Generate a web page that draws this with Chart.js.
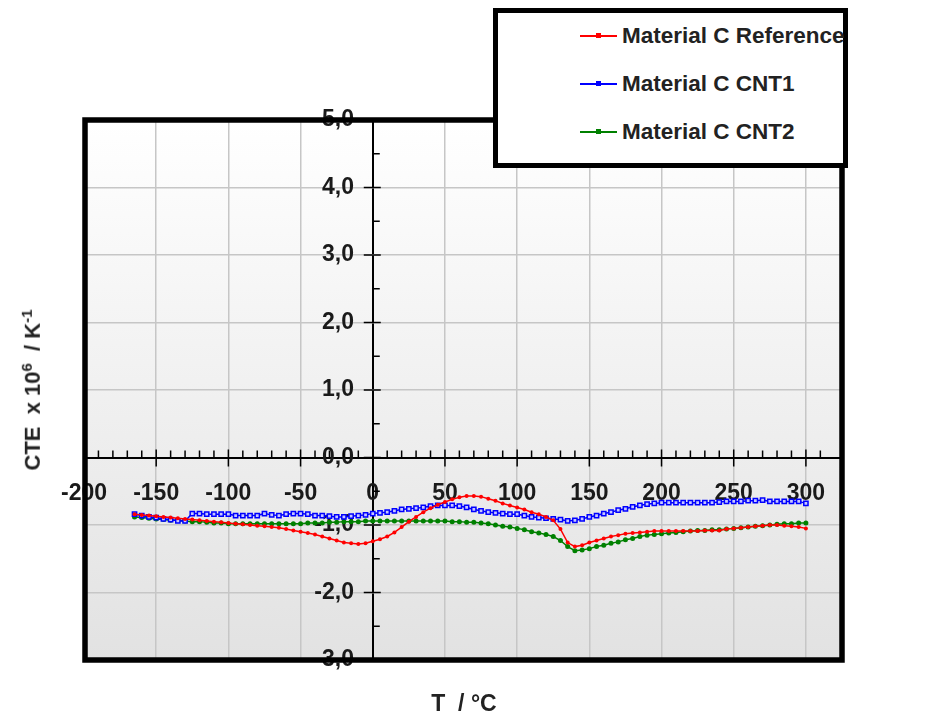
<!DOCTYPE html>
<html>
<head>
<meta charset="utf-8">
<script src="https://cdn.jsdelivr.net/npm/chart.js@4/dist/chart.umd.min.js"></script>
<style>
  body { margin: 0; background: #fff; font-family: "Liberation Sans", Arial, sans-serif; }
  #wrap { position: relative; width: 932px; height: 713px; }
  #legend { position: absolute; left: 493px; top: 8px; width: 345px; height: 150px; border: 5px solid #000; background: #fff; }
  .item { position: absolute; left: 82px; height: 24px; font-weight: bold; font-size: 22.5px; color: #222; line-height: 24px; white-space: nowrap; }
  .item .ln { position: absolute; left: 0; top: 11px; width: 37px; height: 2px; }
  .item .mk { position: absolute; left: 16px; top: 9px; width: 5px; height: 5px; }
  .item span.t { position: absolute; left: 42px; top: 0; }
  #ytitle { position: absolute; left: 32px; top: 390px; transform: translate(-50%, -50%) rotate(-90deg); font-weight: bold; font-size: 22px; color: #222; white-space: nowrap; }
  #ytitle sup { font-size: 15px; }
  #xtitle { position: absolute; left: 464px; top: 703px; transform: translate(-50%, -50%); font-weight: bold; font-size: 23px; color: #222; white-space: nowrap; }
</style>
</head>
<body>
<div id="wrap">
  <canvas id="cteChart" width="932" height="713"></canvas>
  <div id="legend"></div>
  <div id="ytitle">CTE&nbsp;&nbsp;x 10<sup>6</sup>&nbsp; / K<sup>-1</sup></div>
  <div id="xtitle">T &nbsp;/ °C</div>
</div>
<script>
const temps = [-165, -160, -155, -150, -145, -140, -135, -130, -125, -120, -115, -110, -105, -100, -95, -90, -85, -80, -75, -70,
  -65, -60, -55, -50, -45, -40, -35, -30, -25, -20, -15, -10, -5, 0, 5, 10, 15, 20, 25, 30,
  35, 40, 45, 50, 55, 60, 65, 70, 75, 80, 85, 90, 95, 100, 105, 110, 115, 120, 125, 130,
  135, 140, 145, 150, 155, 160, 165, 170, 175, 180, 185, 190, 195, 200, 205, 210, 215, 220, 225, 230,
  235, 240, 245, 250, 255, 260, 265, 270, 275, 280, 285, 290, 295, 300];

const refValues = [-0.84, -0.85, -0.86, -0.87, -0.88, -0.89, -0.90, -0.91, -0.92, -0.93, -0.94, -0.95, -0.96, -0.97, -0.98, -0.99, -1.00, -1.01, -1.02, -1.03,
  -1.04, -1.06, -1.08, -1.10, -1.12, -1.14, -1.17, -1.20, -1.23, -1.26, -1.27, -1.28, -1.27, -1.24, -1.21, -1.17, -1.11, -1.03, -0.95, -0.88,
  -0.81, -0.75, -0.70, -0.66, -0.62, -0.59, -0.57, -0.57, -0.58, -0.61, -0.64, -0.68, -0.71, -0.74, -0.77, -0.81, -0.84, -0.88, -0.93, -1.06,
  -1.26, -1.32, -1.30, -1.26, -1.23, -1.20, -1.17, -1.15, -1.13, -1.12, -1.11, -1.10, -1.09, -1.09, -1.09, -1.09, -1.09, -1.09, -1.09, -1.08,
  -1.08, -1.08, -1.06, -1.05, -1.04, -1.03, -1.02, -1.01, -1.00, -1.00, -1.01, -1.02, -1.03, -1.05];

const cnt1Values = [-0.84, -0.86, -0.88, -0.89, -0.91, -0.92, -0.94, -0.94, -0.83, -0.83, -0.84, -0.84, -0.84, -0.84, -0.86, -0.86, -0.86, -0.86, -0.83, -0.85,
  -0.86, -0.84, -0.83, -0.83, -0.84, -0.86, -0.86, -0.87, -0.88, -0.88, -0.87, -0.86, -0.85, -0.83, -0.82, -0.81, -0.79, -0.77, -0.76, -0.75,
  -0.74, -0.72, -0.71, -0.71, -0.71, -0.72, -0.74, -0.77, -0.79, -0.81, -0.82, -0.83, -0.84, -0.84, -0.86, -0.88, -0.89, -0.90, -0.91, -0.92,
  -0.94, -0.93, -0.91, -0.88, -0.86, -0.83, -0.81, -0.78, -0.76, -0.73, -0.71, -0.69, -0.68, -0.67, -0.67, -0.67, -0.67, -0.67, -0.67, -0.67,
  -0.67, -0.66, -0.65, -0.65, -0.65, -0.64, -0.64, -0.63, -0.65, -0.65, -0.65, -0.65, -0.65, -0.68];

const cnt2Values = [-0.88, -0.89, -0.90, -0.91, -0.92, -0.93, -0.93, -0.94, -0.95, -0.95, -0.96, -0.97, -0.97, -0.98, -0.98, -0.98, -0.98, -0.98, -0.98, -0.98,
  -0.98, -0.98, -0.98, -0.98, -0.97, -0.97, -0.97, -0.96, -0.96, -0.95, -0.95, -0.95, -0.94, -0.94, -0.94, -0.94, -0.94, -0.94, -0.94, -0.94,
  -0.94, -0.94, -0.94, -0.94, -0.95, -0.95, -0.96, -0.96, -0.97, -0.98, -1.00, -1.02, -1.03, -1.05, -1.07, -1.10, -1.12, -1.14, -1.17, -1.23,
  -1.32, -1.38, -1.37, -1.35, -1.32, -1.30, -1.27, -1.25, -1.22, -1.20, -1.17, -1.15, -1.14, -1.13, -1.12, -1.11, -1.10, -1.09, -1.08, -1.08,
  -1.07, -1.07, -1.06, -1.05, -1.04, -1.03, -1.02, -1.01, -1.00, -0.99, -0.98, -0.98, -0.97, -0.97];

const seriesNames = ["Material C Reference", "Material C CNT1", "Material C CNT2"];
const seriesColors = ["#ff0000", "#0000ff", "#008000"];

const xMin = -200, xMax = 325;
const yMin = -3, yMax = 5;

const toPoints = (vals) => vals.map((v, i) => ({ x: temps[i], y: v }));

// legend (html, like the original box)
const legend = document.getElementById("legend");
legend.innerHTML = seriesNames.map((name, i) => `<div class="item" style="top:${11 + i * 48}px">
  <div class="ln" style="background:${seriesColors[i]}"></div>
  <div class="mk" style="background:${seriesColors[i]}"></div>
  <span class="t">${name}</span></div>`).join("");

const plotDecor = {
  id: "plotDecor",
  beforeDraw(chart) {
    const { ctx, chartArea: a } = chart;
    const g = ctx.createLinearGradient(0, a.top, 0, a.bottom);
    g.addColorStop(0, "#ffffff");
    g.addColorStop(1, "#e2e2e2");
    ctx.save();
    ctx.fillStyle = g;
    ctx.fillRect(a.left, a.top, a.right - a.left, a.bottom - a.top);
    ctx.restore();
  },
  beforeDatasetsDraw(chart) {
    const { ctx, scales: { x, y } } = chart;
    const x0 = x.getPixelForValue(0);
    const y0 = y.getPixelForValue(0);
    ctx.save();
    ctx.strokeStyle = "#000";
    ctx.lineWidth = 1.5;
    ctx.beginPath();
    x.ticks.forEach((t) => {
      const px = x.getPixelForValue(t.value);
      if (t.value % 50 === 0) { ctx.moveTo(px, y0 - 8); ctx.lineTo(px, y0 + 9); }
      else { ctx.moveTo(px, y0 - 7); ctx.lineTo(px, y0); }
    });
    y.ticks.forEach((t) => {
      const py = y.getPixelForValue(t.value);
      if (Number.isInteger(t.value)) { ctx.moveTo(x0 - 9, py); ctx.lineTo(x0 + 8, py); }
      else { ctx.moveTo(x0, py); ctx.lineTo(x0 + 7, py); }
    });
    ctx.stroke();
    ctx.restore();
  },
  afterDraw(chart) {
    const { ctx, chartArea: a } = chart;
    ctx.save();
    ctx.strokeStyle = "#000";
    ctx.lineWidth = 5.5;
    ctx.strokeRect(a.left + 1, a.top, a.right - a.left - 1, a.bottom - a.top);
    ctx.restore();
  },
};

const gridColor = (ctx) => (ctx.tick.value === 0 ? "#000" : "#c6c6c6");
const tickFont = { family: "'Liberation Sans', Arial", size: 23, weight: "bold" };

new Chart(document.getElementById("cteChart"), {
  type: "line",
  data: {
    datasets: [
      { label: seriesNames[0], data: toPoints(refValues), borderColor: seriesColors[0], backgroundColor: seriesColors[0],
        borderWidth: 1.5, pointStyle: "circle", pointRadius: 2, pointBorderWidth: 0 },
      { label: seriesNames[1], data: toPoints(cnt1Values), borderColor: seriesColors[1], backgroundColor: "#c8c8ff",
        borderWidth: 1.5, pointStyle: "rect", pointRadius: 3, pointBorderWidth: 1.5 },
      { label: seriesNames[2], data: toPoints(cnt2Values), borderColor: seriesColors[2], backgroundColor: seriesColors[2],
        borderWidth: 1.5, pointStyle: "circle", pointRadius: 2.5, pointBorderWidth: 0 },
    ],
  },
  options: {
    responsive: false,
    animation: false,
    layout: { padding: { left: 84, right: 90, top: 120, bottom: 53 } },
    plugins: { legend: { display: false }, tooltip: { enabled: false } },
    scales: {
      x: {
        type: "linear",
        min: xMin,
        max: xMax,
        position: { y: 0 },
        border: { display: false },
        grid: {
          drawTicks: false,
          color: gridColor,
          lineWidth: (ctx) => (ctx.tick.value === 0 ? 2 : ctx.tick.value % 50 === 0 ? 1.5 : 0),
        },
        ticks: {
          stepSize: 10,
          padding: 22,
          color: "#1a1a1a",
          font: tickFont,
          maxRotation: 0,
          autoSkip: false,
          callback: (v) => (v % 50 === 0 ? String(v) : ""),
        },
      },
      y: {
        type: "linear",
        min: yMin,
        max: yMax,
        position: { x: -13 },
        border: { display: false },
        grid: {
          drawTicks: false,
          color: gridColor,
          lineWidth: (ctx) => (ctx.tick.value === 0 ? 2 : Number.isInteger(ctx.tick.value) ? 1.5 : 0),
        },
        ticks: {
          stepSize: 0.5,
          color: "#1a1a1a",
          font: tickFont,
          autoSkip: false,
          callback: (v) => (Number.isInteger(v) ? v.toFixed(1).replace(".", ",") : ""),
        },
      },
    },
  },
  plugins: [plotDecor],
});
</script>
</body>
</html>
